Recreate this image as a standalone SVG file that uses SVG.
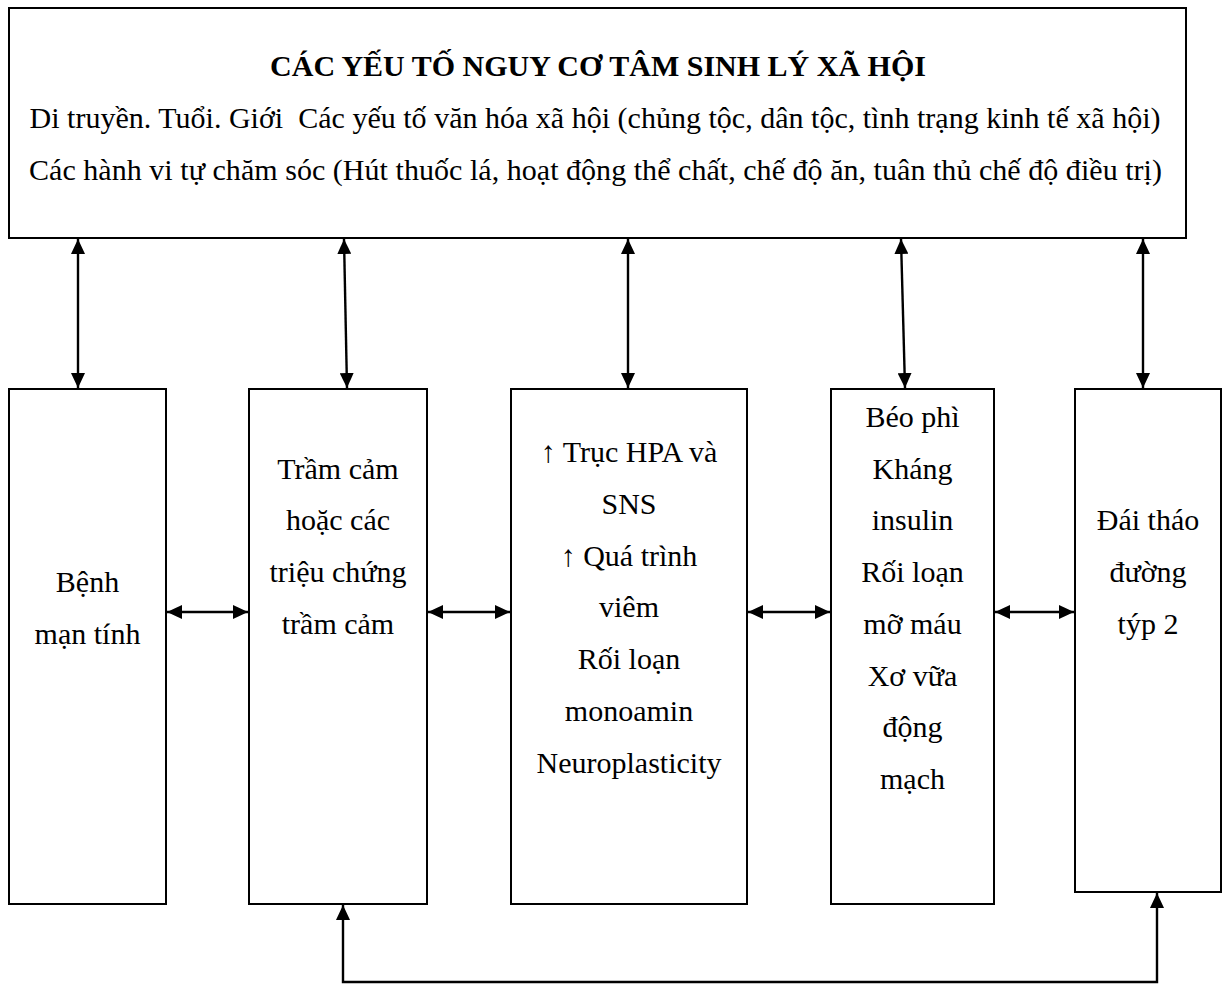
<svg xmlns="http://www.w3.org/2000/svg" width="1224" height="984" viewBox="0 0 1224 984">
<style>
.box{fill:#fff;stroke:#000;stroke-width:2}
.t{font-family:"Liberation Serif","Times New Roman",serif;font-size:30px;fill:#000}
.c{text-anchor:middle}
.b{font-weight:bold}
.conn{fill:none;stroke:#000;stroke-width:2.4}
</style>
<defs>
<marker id="ah" markerUnits="userSpaceOnUse" viewBox="0 0 15 14" markerWidth="15" markerHeight="14" refX="15" refY="7" orient="auto-start-reverse">
<path d="M0,0 L15,7 L0,14 z" fill="#000"/>
</marker>
</defs>
<rect width="1224" height="984" fill="#fff"/>
<g id="top">
<rect class="box" x="9" y="8" width="1177" height="230"/>
<text class="t b c" x="598" y="76">CÁC YẾU TỐ NGUY CƠ TÂM SINH LÝ XÃ HỘI</text>
<text class="t" x="29.5" y="128" textLength="1131" lengthAdjust="spacing" xml:space="preserve">Di truyền. Tuổi. Giới  Các yếu tố văn hóa xã hội (chủng tộc, dân tộc, tình trạng kinh tế xã hội)</text>
<text class="t" x="29" y="180" textLength="1133" lengthAdjust="spacing">Các hành vi tự chăm sóc (Hút thuốc lá, hoạt động thể chất, chế độ ăn, tuân thủ chế độ điều trị)</text>
</g>
<g id="n1">
<rect class="box" x="9" y="389" width="157" height="515"/>
<text class="t c" x="87.5" y="592">Bệnh</text>
<text class="t c" x="87.5" y="644">mạn tính</text>
</g>
<g id="n2">
<rect class="box" x="249" y="389" width="178" height="515"/>
<text class="t c" x="338" y="478.5">Trầm cảm</text>
<text class="t c" x="338" y="530">hoặc các</text>
<text class="t c" x="338" y="582">triệu chứng</text>
<text class="t c" x="338" y="634">trầm cảm</text>
</g>
<g id="n3">
<rect class="box" x="511" y="389" width="236" height="515"/>
<text class="t c" x="629" y="462">↑ Trục HPA và</text>
<text class="t c" x="629" y="514">SNS</text>
<text class="t c" x="629" y="565.5">↑ Quá trình</text>
<text class="t c" x="629" y="617">viêm</text>
<text class="t c" x="629" y="669">Rối loạn</text>
<text class="t c" x="629" y="721">monoamin</text>
<text class="t c" x="629" y="772.5">Neuroplasticity</text>
</g>
<g id="n4">
<rect class="box" x="831" y="389" width="163" height="515"/>
<text class="t c" x="912.5" y="427">Béo phì</text>
<text class="t c" x="912.5" y="478.5">Kháng</text>
<text class="t c" x="912.5" y="530">insulin</text>
<text class="t c" x="912.5" y="582">Rối loạn</text>
<text class="t c" x="912.5" y="634">mỡ máu</text>
<text class="t c" x="912.5" y="685.5">Xơ vữa</text>
<text class="t c" x="912.5" y="737">động</text>
<text class="t c" x="912.5" y="789">mạch</text>
</g>
<g id="n5">
<rect class="box" x="1075" y="389" width="146" height="503"/>
<text class="t c" x="1148" y="530">Đái tháo</text>
<text class="t c" x="1148" y="582">đường</text>
<text class="t c" x="1148" y="634">týp 2</text>
</g>
<g id="connectors">
<line class="conn" x1="78" y1="239" x2="78" y2="388" marker-start="url(#ah)" marker-end="url(#ah)"/>
<line class="conn" x1="344" y1="239" x2="347" y2="388" marker-start="url(#ah)" marker-end="url(#ah)"/>
<line class="conn" x1="628" y1="239" x2="628" y2="388" marker-start="url(#ah)" marker-end="url(#ah)"/>
<line class="conn" x1="901" y1="239" x2="905" y2="388" marker-start="url(#ah)" marker-end="url(#ah)"/>
<line class="conn" x1="1143" y1="239" x2="1143" y2="388" marker-start="url(#ah)" marker-end="url(#ah)"/>
<line class="conn" x1="167" y1="612" x2="248" y2="612" marker-start="url(#ah)" marker-end="url(#ah)"/>
<line class="conn" x1="428" y1="612" x2="510" y2="612" marker-start="url(#ah)" marker-end="url(#ah)"/>
<line class="conn" x1="748" y1="612" x2="830" y2="612" marker-start="url(#ah)" marker-end="url(#ah)"/>
<line class="conn" x1="995" y1="612" x2="1074" y2="612" marker-start="url(#ah)" marker-end="url(#ah)"/>
<path class="conn" d="M343,905 V982 H1157 V893" marker-start="url(#ah)" marker-end="url(#ah)"/>
</g>
</svg>
